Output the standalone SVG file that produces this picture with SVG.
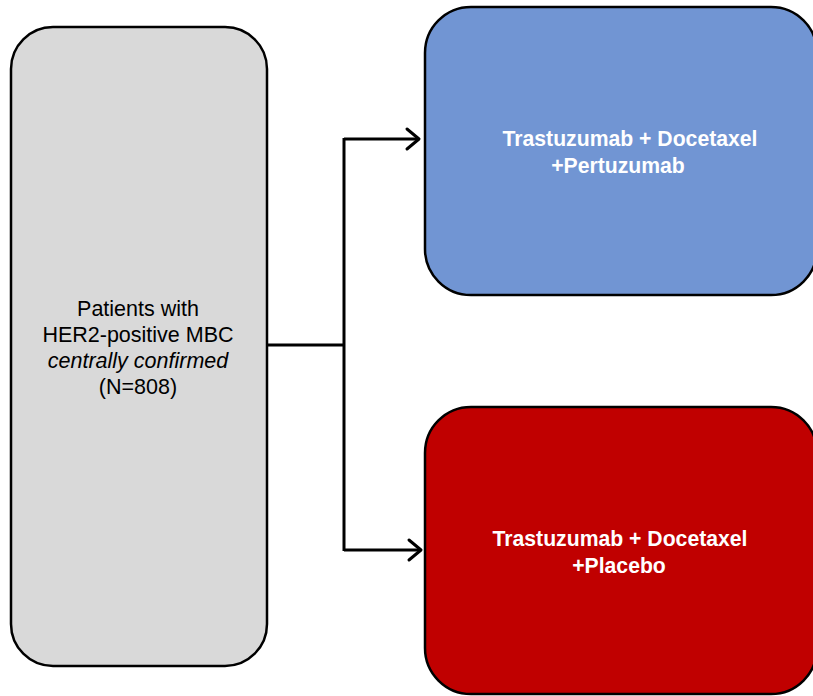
<svg xmlns="http://www.w3.org/2000/svg" width="813" height="696" viewBox="0 0 813 696">
  <style>
    .box { stroke: #000; stroke-width: 2.5; }
    .wire { fill: none; stroke: #000; stroke-width: 3; }
    .head { fill: none; stroke: #000; stroke-width: 3; stroke-linecap: round; stroke-linejoin: round; }
    .lbl { font-family: "Liberation Sans", Arial, sans-serif; font-size: 21.5px; fill: #000; text-anchor: middle; }
    .arm { font-family: "Liberation Sans", Arial, sans-serif; font-size: 21.2px; font-weight: bold; fill: #fff; text-anchor: middle; }
  </style>

  <g id="population">
    <rect class="box" x="11" y="27" width="256" height="639" rx="42" ry="42" fill="#D9D9D9"/>
    <text class="lbl" x="138" y="316">Patients with</text>
    <text class="lbl" x="138" y="342">HER2-positive MBC</text>
    <text class="lbl" x="138" y="368" font-style="italic">centrally confirmed</text>
    <text class="lbl" x="138" y="394">(N=808)</text>
  </g>

  <g id="arm-pertuzumab">
    <rect class="box" x="425" y="7" width="392" height="288" rx="46" ry="46" fill="#7195D3"/>
    <text class="arm" x="630" y="146">Trastuzumab + Docetaxel</text>
    <text class="arm" x="618" y="173">+Pertuzumab</text>
  </g>

  <g id="arm-placebo">
    <rect class="box" x="425" y="407" width="392" height="287" rx="46" ry="46" fill="#C00000"/>
    <text class="arm" x="620" y="546">Trastuzumab + Docetaxel</text>
    <text class="arm" x="619" y="573">+Placebo</text>
  </g>

  <g id="connectors">
    <path class="wire" d="M267 345 H345 M344 138 V551 M344 139 H419 M344 550 H421"/>
    <path class="head" d="M407 129 L419 139 L407 149"/>
    <path class="head" d="M409 540 L421 550 L409 560"/>
  </g>
</svg>
